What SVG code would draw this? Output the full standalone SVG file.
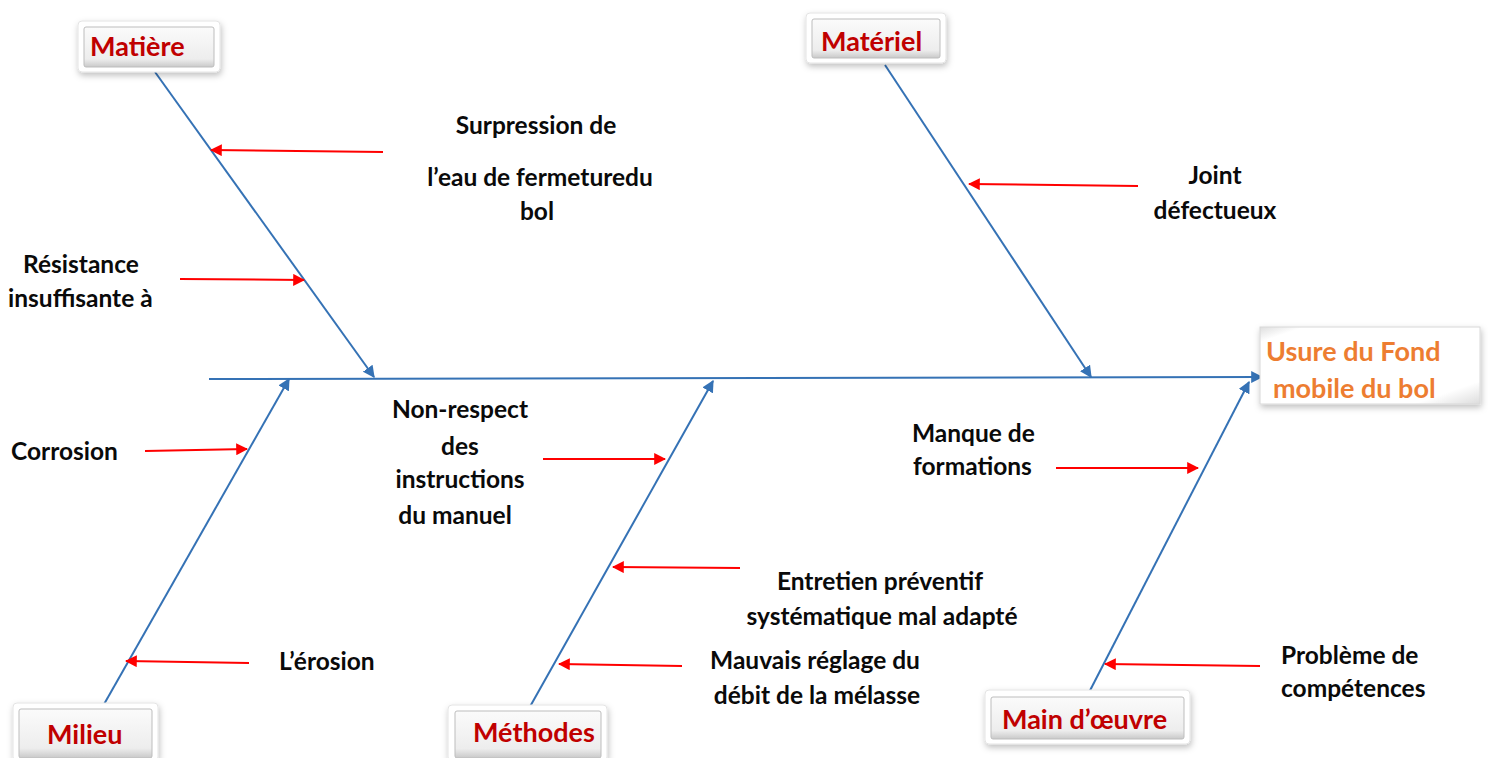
<svg xmlns="http://www.w3.org/2000/svg" width="1488" height="758" viewBox="0 0 1488 758">
  <style>
    .lbl { font-family: Lato, "Open Sans", "Liberation Sans", sans-serif; font-weight: bold; font-size: 24.5px; fill: #0a0a0a; }
    .mid { text-anchor: middle; }
    .cat { font-family: Lato, "Open Sans", "Liberation Sans", sans-serif; font-weight: bold; font-size: 27px; fill: #C00000; }
    .eff { font-family: Lato, "Open Sans", "Liberation Sans", sans-serif; font-weight: bold; font-size: 27px; fill: #ED7D31; }
    .bone { stroke: #3572B5; stroke-width: 2; fill: none; marker-end: url(#blueHead); }
    .cause { stroke: #FF0000; stroke-width: 2; fill: none; marker-end: url(#redHead); }
    .frame { fill: #ffffff; stroke: #e4e4e4; stroke-width: 1; filter: url(#shadow); }
    .btn { fill: url(#btnFill); stroke: #bdbdbd; stroke-width: 1; }
  </style>
  <defs>
    <marker id="blueHead" viewBox="0 0 10 10" refX="9" refY="5" markerWidth="12" markerHeight="12" markerUnits="userSpaceOnUse" orient="auto">
      <path d="M0,0 L10,5 L0,10 z" fill="#3572B5"/>
    </marker>
    <marker id="redHead" viewBox="0 0 10 10" refX="9" refY="5" markerWidth="12" markerHeight="12" markerUnits="userSpaceOnUse" orient="auto">
      <path d="M0,0 L10,5 L0,10 z" fill="#FF0000"/>
    </marker>
    <linearGradient id="btnFill" x1="0" y1="0" x2="0" y2="1">
      <stop offset="0" stop-color="#fbfbfb"/>
      <stop offset="0.8" stop-color="#ededed"/>
      <stop offset="1" stop-color="#c9c9c9"/>
    </linearGradient>
    <linearGradient id="effFill" x1="0" y1="0" x2="1" y2="1">
      <stop offset="0" stop-color="#dedede"/>
      <stop offset="0.1" stop-color="#ffffff"/>
      <stop offset="0.85" stop-color="#ffffff"/>
      <stop offset="1" stop-color="#dcdcdc"/>
    </linearGradient>
    <filter id="shadow" x="-20%" y="-30%" width="140%" height="170%">
      <feDropShadow dx="1" dy="3" stdDeviation="3" flood-color="#000" flood-opacity="0.25"/>
    </filter>
  </defs>

  <!-- spine and main bones -->
  <g id="connectors">
    <line class="bone" x1="209" y1="379" x2="1262" y2="377"/>
    <line class="bone" x1="155" y1="72" x2="374" y2="377"/>
    <line class="bone" x1="885" y1="65" x2="1091" y2="377"/>
    <line class="bone" x1="103" y1="706" x2="289" y2="379"/>
    <line class="bone" x1="527" y1="712" x2="713" y2="381"/>
    <line class="bone" x1="1082" y1="706" x2="1249" y2="382"/>

    <!-- cause arrows -->
    <line class="cause" x1="383" y1="152" x2="211" y2="150"/>
    <line class="cause" x1="180" y1="279" x2="304" y2="280"/>
    <line class="cause" x1="1138" y1="186" x2="969" y2="184"/>
    <line class="cause" x1="145" y1="451" x2="247" y2="449"/>
    <line class="cause" x1="249" y1="663" x2="126" y2="661"/>
    <line class="cause" x1="543" y1="459" x2="665" y2="459"/>
    <line class="cause" x1="740" y1="568" x2="613" y2="567"/>
    <line class="cause" x1="682" y1="666" x2="559" y2="664"/>
    <line class="cause" x1="1056" y1="468" x2="1198" y2="468"/>
    <line class="cause" x1="1260" y1="666" x2="1105" y2="664"/>
  </g>

  <!-- category boxes -->
  <g id="matiere">
    <rect class="frame" x="78" y="21" width="142" height="51" rx="4"/>
    <rect class="btn" x="84" y="27" width="130" height="40" rx="2"/>
    <text class="cat" x="90" y="56">Matière</text>
  </g>
  <g id="materiel">
    <rect class="frame" x="806" y="13" width="140" height="50" rx="4"/>
    <rect class="btn" x="812" y="19" width="128" height="39" rx="2"/>
    <text class="cat" x="821" y="51">Matériel</text>
  </g>
  <g id="milieu">
    <rect class="frame" x="13" y="703" width="145" height="58" rx="4"/>
    <rect class="btn" x="19" y="709" width="133" height="49" rx="2"/>
    <text class="cat" x="47" y="744">Milieu</text>
  </g>
  <g id="methodes">
    <rect class="frame" x="448" y="705" width="159" height="56" rx="4"/>
    <rect class="btn" x="455" y="711" width="146" height="47" rx="2"/>
    <text class="cat" x="473" y="742">Méthodes</text>
  </g>
  <g id="main-oeuvre">
    <rect class="frame" x="985" y="690" width="205" height="54" rx="4"/>
    <rect class="btn" x="991" y="697" width="193" height="42" rx="2"/>
    <text class="cat" x="1002" y="729">Main d’œuvre</text>
  </g>

  <!-- effect -->
  <g id="effet">
    <rect x="1260" y="327" width="220" height="77" fill="url(#effFill)" stroke="#d8d8d8" filter="url(#shadow)"/>
    <text class="eff" x="1266" y="361">Usure du Fond</text>
    <text class="eff" x="1273" y="398">mobile du bol</text>
  </g>

  <!-- cause labels -->
  <g id="cause-surpression">
    <text class="lbl mid" x="536" y="134">Surpression de</text>
    <text class="lbl mid" x="540" y="186">l’eau de fermeturedu</text>
    <text class="lbl mid" x="537" y="220">bol</text>
  </g>
  <g id="cause-resistance">
    <text class="lbl" x="23" y="273">Résistance</text>
    <text class="lbl" x="8" y="307">insuffisante à</text>
  </g>
  <g id="cause-joint">
    <text class="lbl mid" x="1215" y="184">Joint</text>
    <text class="lbl mid" x="1215" y="219">défectueux</text>
  </g>
  <g id="cause-corrosion">
    <text class="lbl" x="11" y="460">Corrosion</text>
  </g>
  <g id="cause-erosion">
    <text class="lbl" x="279" y="670">L’érosion</text>
  </g>
  <g id="cause-instructions">
    <text class="lbl mid" x="460" y="418">Non-respect</text>
    <text class="lbl mid" x="460" y="455">des</text>
    <text class="lbl mid" x="460" y="488">instructions</text>
    <text class="lbl mid" x="455" y="524">du manuel</text>
  </g>
  <g id="cause-entretien">
    <text class="lbl mid" x="880" y="590">Entretien préventif</text>
    <text class="lbl mid" x="882" y="625">systématique mal adapté</text>
  </g>
  <g id="cause-reglage">
    <text class="lbl mid" x="815" y="669">Mauvais réglage du</text>
    <text class="lbl mid" x="817" y="704">débit de la mélasse</text>
  </g>
  <g id="cause-formations">
    <text class="lbl" x="912" y="442">Manque de</text>
    <text class="lbl" x="913" y="475">formations</text>
  </g>
  <g id="cause-competences">
    <text class="lbl" x="1281" y="664">Problème de</text>
    <text class="lbl" x="1281" y="697">compétences</text>
  </g>
</svg>
